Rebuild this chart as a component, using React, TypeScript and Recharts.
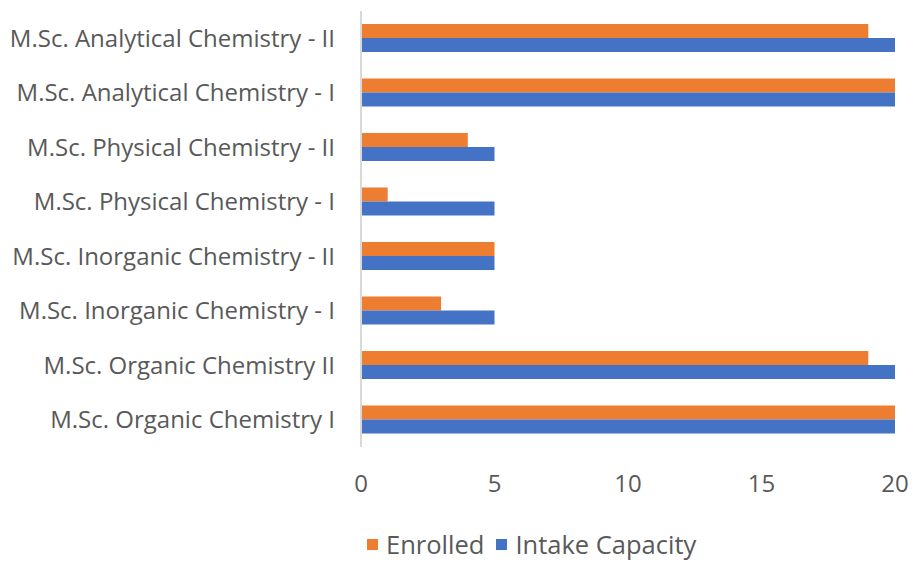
import React from "react";
import { BarChart, Bar, XAxis, YAxis, Legend } from "recharts";

const categories = [
  "M.Sc. Analytical Chemistry - II",
  "M.Sc. Analytical Chemistry - I",
  "M.Sc. Physical Chemistry - II",
  "M.Sc. Physical Chemistry - I",
  "M.Sc. Inorganic Chemistry - II",
  "M.Sc. Inorganic Chemistry - I",
  "M.Sc. Organic Chemistry II",
  "M.Sc. Organic Chemistry I",
];
const enrolled = [19, 20, 4, 1, 5, 3, 19, 20];
const intakeCapacity = [20, 20, 5, 5, 5, 5, 20, 20];
const xTicks = [0, 5, 10, 15, 20];

const data = categories.map((name, i) => ({
  name,
  Enrolled: enrolled[i],
  "Intake Capacity": intakeCapacity[i],
}));

const FONT = "'Open Sans', sans-serif";
const TEXT = "#595959";

const renderLegend = () => (
  <div style={{ display: "flex", fontFamily: FONT, fontSize: 25.5, color: TEXT, marginLeft: 367, lineHeight: "30px", height: 30 }}>
    <div style={{ display: "flex", alignItems: "center", marginRight: 12 }}>
      <span style={{ width: 11, height: 11, background: "#ED7D31", display: "inline-block", marginRight: 8 }} />
      Enrolled
    </div>
    <div style={{ display: "flex", alignItems: "center" }}>
      <span style={{ width: 11, height: 11, background: "#4472C4", display: "inline-block", marginRight: 8 }} />
      Intake Capacity
    </div>
  </div>
);

export default function App() {
  return (
    <div style={{ position: "absolute", left: 0, top: 0, width: 912, height: 562, background: "#fff" }}>
      <BarChart
        width={912}
        height={562}
        data={data}
        layout="vertical"
        margin={{ top: 11, right: 17, left: 0, bottom: 0 }}
        barGap={0}
        barSize={14}
        style={{ overflow: "visible" }}
      >
        <XAxis
          type="number"
          domain={[0, 20]}
          ticks={xTicks}
          axisLine={false}
          tickLine={false}
          tickSize={0}
          tickMargin={28}
          height={82}
          tick={{ fill: TEXT, fontSize: 24, fontFamily: FONT }}
        />
        <YAxis
          type="category"
          dataKey="name"
          width={361}
          axisLine={{ stroke: "#D9D9D9", strokeWidth: 2 }}
          tickLine={false}
          tickSize={0}
          tickMargin={26}
          interval={0}
          tick={{ fill: TEXT, fontSize: 24, fontFamily: FONT }}
        />
        <Legend verticalAlign="bottom" content={renderLegend} wrapperStyle={{ height: 33 }} />
        <Bar dataKey="Enrolled" fill="#ED7D31" isAnimationActive={false} />
        <Bar dataKey="Intake Capacity" fill="#4472C4" isAnimationActive={false} />
      </BarChart>
    </div>
  );
}
